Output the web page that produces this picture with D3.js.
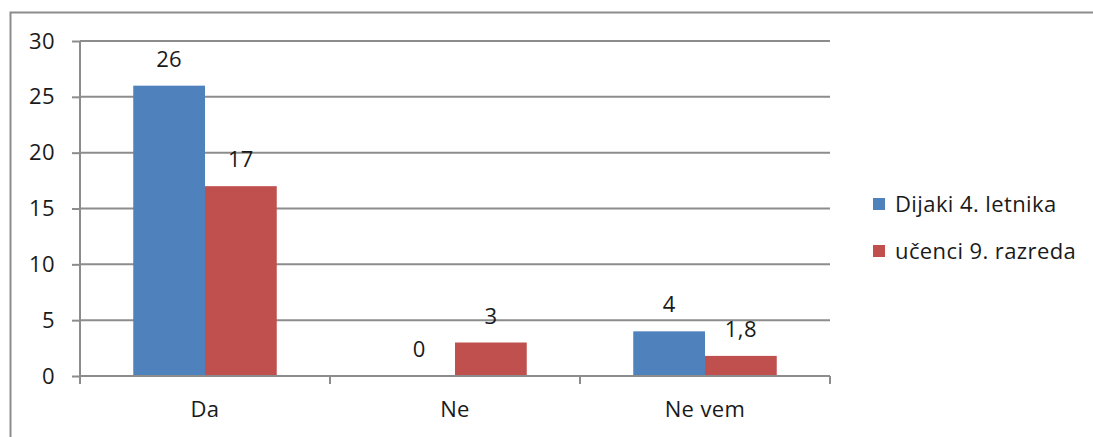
<!DOCTYPE html>
<html>
<head>
<meta charset="utf-8">
<script src="https://cdn.jsdelivr.net/npm/d3@7"></script>
<style>
  body { margin: 0; background: #fff; }
  text { font-family: "Open Sans", "Noto Sans", sans-serif; fill: #1a1a1a; letter-spacing: 0.4px; }
</style>
</head>
<body>
<svg id="chart" width="1093" height="437"></svg>
<script>
// data
var categories = ['Da', 'Ne', 'Ne vem'];
var seriesNames = ['Dijaki 4. letnika', 'učenci 9. razreda'];
var dijaki = [26, 0, 4];
var ucenci = [17, 3, 1.8];
var yTicks = [0, 5, 10, 15, 20, 25, 30];
var colors = ['#4F81BD', '#C0504D'];

var svg = d3.select('#chart');
var margin = { left: 80, top: 41, right: 263, bottom: 61 };
var w = 1093 - margin.left - margin.right;
var h = 437 - margin.top - margin.bottom;
var fs = '22px';

// outer frame
svg.append('rect')
    .attr('x', 10.5).attr('y', 12.5)
    .attr('width', 1100).attr('height', 500)
    .attr('fill', 'none')
    .attr('stroke', '#8c8c8c')
    .attr('stroke-width', 2);

var g = svg.append('g').attr('transform', 'translate(' + margin.left + ',' + margin.top + ')');

var x = d3.scaleBand().domain(categories).range([0, w]).paddingInner(0).paddingOuter(0);
var xs = d3.scaleBand().domain([0, 1]).range([x.bandwidth() * 0.213, x.bandwidth() * 0.787]);
var y = d3.scaleLinear().domain([0, 30]).range([h, 0]);

// gridlines
g.selectAll('.grid').data(yTicks.filter(function (d) { return d > 0; }))
    .enter().append('line')
    .attr('x1', 0).attr('x2', w)
    .attr('y1', function (d) { return y(d); })
    .attr('y2', function (d) { return y(d); })
    .attr('stroke', '#8c8c8c').attr('stroke-width', 2);

// bars
var seriesData = [dijaki, ucenci];
seriesData.forEach(function (vals, si) {
    g.selectAll('.bar' + si).data(vals).enter().append('rect')
        .attr('x', function (d, i) { return x(categories[i]) + xs(si); })
        .attr('width', xs.bandwidth())
        .attr('y', function (d) { return y(d); })
        .attr('height', function (d) { return h - y(d); })
        .attr('fill', colors[si]);

    g.selectAll('.lab' + si).data(vals).enter().append('text')
        .attr('x', function (d, i) { return x(categories[i]) + xs(si) + xs.bandwidth() / 2; })
        .attr('y', function (d) { return y(d) - 19; })
        .attr('text-anchor', 'middle')
        .style('font-size', fs)
        .text(function (d) { return String(d).replace('.', ','); });
});

// y axis
var yAxis = g.append('g')
    .call(d3.axisLeft(y).tickValues(yTicks).tickSize(8).tickPadding(8));
yAxis.select('.domain').attr('stroke', '#8c8c8c').attr('stroke-width', 2).attr('d', 'M0,' + h + 'V0');
yAxis.selectAll('.tick line').attr('stroke', '#8c8c8c').attr('stroke-width', 2);
yAxis.selectAll('text').style('font-size', fs).attr('fill', '#1a1a1a').attr('x', -25);

// x axis
var xAxis = g.append('g').attr('transform', 'translate(0,' + h + ')')
    .call(d3.axisBottom(x).tickSize(0).tickPadding(25));
xAxis.select('.domain').attr('stroke', '#8c8c8c').attr('stroke-width', 2).attr('d', 'M0,0H' + w);
xAxis.selectAll('text').style('font-size', fs).attr('fill', '#1a1a1a');

// category separators
var bounds = [0].concat(categories.map(function (c) { return x(c) + x.bandwidth(); }));
g.selectAll('.sep').data(bounds).enter().append('line')
    .attr('x1', function (d) { return d; }).attr('x2', function (d) { return d; })
    .attr('y1', h).attr('y2', h + 8)
    .attr('stroke', '#8c8c8c').attr('stroke-width', 2);

// legend
var legend = svg.append('g').attr('transform', 'translate(873,198)');
seriesNames.forEach(function (name, i) {
    var row = legend.append('g').attr('transform', 'translate(0,' + (i * 47) + ')');
    row.append('rect').attr('width', 12).attr('height', 12).attr('fill', colors[i]);
    row.append('text').attr('x', 22).attr('y', 14).style('font-size', fs).text(name);
});
</script>
</body>
</html>
